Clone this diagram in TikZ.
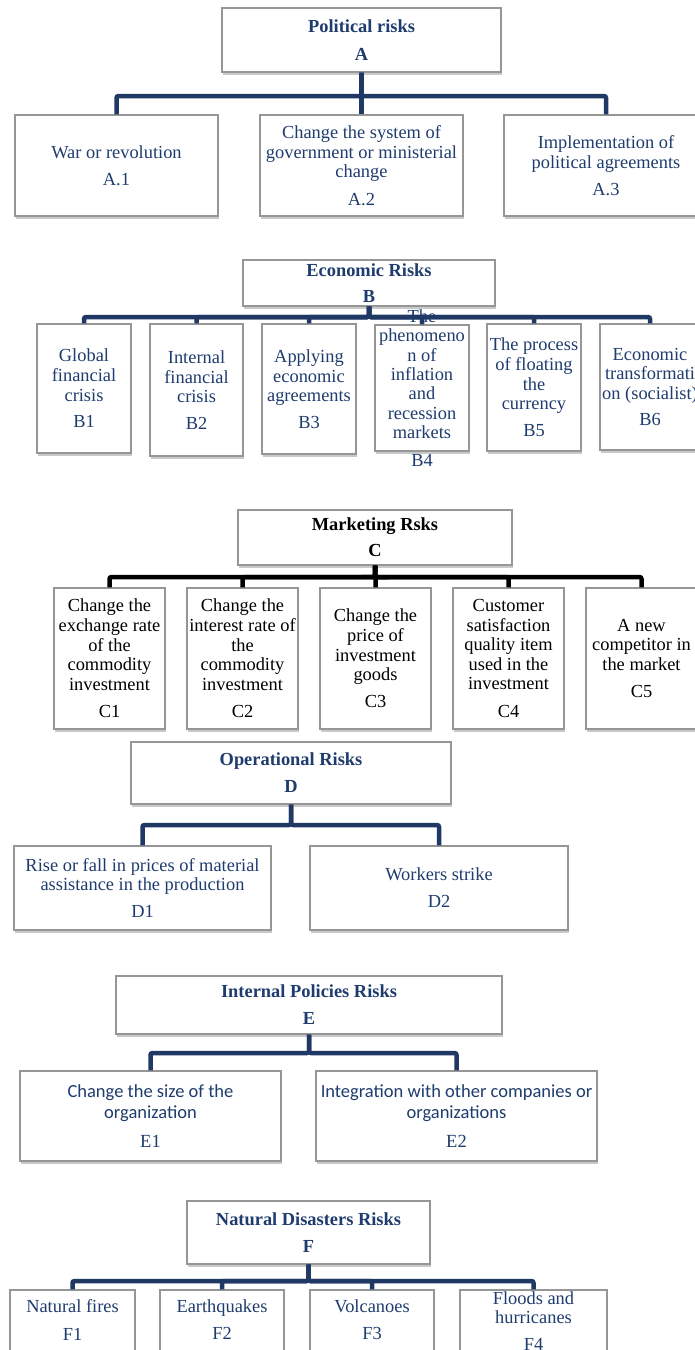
\documentclass[tikz,border=0pt]{standalone}
\usepackage{fontspec}
\setmainfont{Liberation Serif}
\newfontfamily\carlito{Carlito}
\usetikzlibrary{shadows}
\definecolor{tblue}{RGB}{31,60,110}
\definecolor{lblue}{RGB}{31,56,100}
\definecolor{bgray}{RGB}{150,150,150}
\newcommand\bx[5]{\node[boxs, minimum width={#4-#2}, minimum height={#5-#3}] (#1) at ({(#2+#4)/2},{(#3+#5)/2}) {};}
\begin{document}
\begin{tikzpicture}[x=1pt,y=-1pt,
  boxs/.style={draw=bgray, line width=1.2pt, fill=white, inner sep=0pt,
    drop shadow={shadow xshift=0.8pt, shadow yshift=-3pt, opacity=0.35, fill=black!60}},
  txt/.style={align=center, inner sep=0pt, text=tblue, font=\fontsize{18.4}{19.6}\selectfont},
  ttl/.style={txt, font=\bfseries\fontsize{18.4}{19.6}\selectfont},
  btxt/.style={txt, text=black},
  bttl/.style={ttl, text=black},
  stxt/.style={txt, font=\carlito\fontsize{18.5}{20.5}\selectfont},
  conn/.style={draw=lblue, line width=4.5pt, rounded corners=2pt},
  bconn/.style={conn, draw=black},
]
\fill[white] (0,0) rectangle (695,1350);
\useasboundingbox (0,0) rectangle (695,1350);
% ---------- boxes ----------
\bx{A}{222}{8}{501}{72}
\bx{a1}{15}{115}{218}{216}
\bx{a2}{260}{115}{463}{216}
\bx{a3}{504}{115}{708}{216}
\bx{B}{243}{260}{495}{306}
\bx{b1}{37}{324}{131}{453}
\bx{b2}{150}{324}{243}{456}
\bx{b3}{262}{324}{356}{454}
\bx{b4}{375}{325}{469}{451}
\bx{b5}{487}{324}{581}{451}
\bx{b6}{600}{324}{700}{450}
\bx{C}{238}{510}{512}{565}
\bx{c1}{54}{588}{165}{729}
\bx{c2}{187}{588}{298}{729}
\bx{c3}{320}{588}{431}{729}
\bx{c4}{453}{588}{564}{729}
\bx{c5}{586}{588}{697}{729}
\bx{D}{131}{742}{451}{804}
\bx{d1}{14}{846}{271}{930}
\bx{d2}{310}{846}{568}{930}
\bx{E}{116}{976}{502}{1034}
\bx{e1}{20}{1071}{281}{1161}
\bx{e2}{316}{1071}{597}{1161}
\bx{F}{187}{1201}{430}{1264}
\bx{f1}{10}{1290}{135}{1356}
\bx{f2}{160}{1290}{284}{1356}
\bx{f3}{310}{1290}{434}{1356}
\bx{f4}{460}{1290}{607}{1356}
% ---------- bus coordinates ----------
\coordinate (busA) at (0,96);
\coordinate (busB) at (0,317);
\coordinate (busC) at (0,577);
\coordinate (busD) at (0,825);
\coordinate (busE) at (0,1053);
\coordinate (busF) at (0,1281);
% ---------- connectors ----------
\foreach \c in {a1,a2,a3}{\draw[conn] (A.south) -- (A.south |- busA) -| (\c.north);}
\foreach \c in {b1,b2,b3,b4,b5,b6}{\draw[conn] (B.south) -- (B.south |- busB) -| (\c.north);}
\foreach \c in {c1,c2,c3,c4,c5}{\draw[bconn] (C.south) -- (C.south |- busC) -| (\c.north);}
\foreach \c in {d1,d2}{\draw[conn] (D.south) -- (D.south |- busD) -| (\c.north);}
\foreach \c in {e1,e2}{\draw[conn] (E.south) -- (E.south |- busE) -| (\c.north);}
\foreach \c in {f1,f2,f3,f4}{\draw[conn] (F.south) -- (F.south |- busF) -| (\c.north);}
% ---------- texts ----------
\node[ttl] (At) at (A) {Political risks\\[8.5pt]A};
\node[txt] (a1t) at (a1) {War or revolution\\[7.5pt]A.1};
\node[txt] (a2t) at (a2) {Change the system of\\government or ministerial\\change\\[7.5pt]A.2};
\node[txt] (a3t) at (a3) {Implementation of\\political agreements\\[7.5pt]A.3};
\node[ttl] (Bt) at (B) {Economic Risks\\[6.5pt]B};
\node[txt] (b1t) at (b1) {Global\\financial\\crisis\\[7pt]B1};
\node[txt] (b2t) at (b2) {Internal\\financial\\crisis\\[7pt]B2};
\node[txt] (b3t) at (b3) {Applying\\economic\\agreements\\[7pt]B3};
\node[txt, font=\fontsize{18.4}{19.3}\selectfont] (b4t) at (b4) {The\\phenomeno\\n of\\inflation\\and\\recession\\markets\\[8.5pt]B4};
\node[txt] (b5t) at (b5) {The process\\of floating\\the\\currency\\[7.5pt]B5};
\node[txt] (b6t) at (b6) {Economic\\transformati\\on (socialist)\\[7pt]B6};
\node[bttl] (Ct) at (C) {Marketing Rsks\\[6.5pt]C};
\node[btxt] (c1t) at (c1) {Change the\\exchange rate\\of the\\commodity\\investment\\[8pt]C1};
\node[btxt] (c2t) at (c2) {Change the\\interest rate of\\the\\commodity\\investment\\[8pt]C2};
\node[btxt] (c3t) at (c3) {Change the\\price of\\investment\\goods\\[7.5pt]C3};
\node[btxt] (c4t) at (c4) {Customer\\satisfaction\\quality item\\used in the\\investment\\[8pt]C4};
\node[btxt] (c5t) at (c5) {A new\\competitor in\\the market\\[7.5pt]C5};
\node[ttl] (Dt) at (D) {Operational Risks\\[7.5pt]D};
\node[txt] (d1t) at (d1) {Rise or fall in prices of material\\assistance in the production\\[7.5pt]D1};
\node[txt] (d2t) at (d2) {Workers strike\\[7.5pt]D2};
\node[ttl] (Et) at (E) {Internal Policies Risks\\[7.5pt]E};
\node[stxt] (e1t) at (e1) {Change the size of the\\organization\\[8.5pt]\rmfamily E1};
\node[stxt] (e2t) at (e2) {Integration with other companies or\\organizations\\[8.5pt]\rmfamily E2};
\node[ttl] (Ft) at (F) {Natural Disasters Risks\\[7.5pt]F};
\node[txt] (f1t) at (72.5,1320) {Natural fires\\[7.5pt]F1};
\node[txt] (f2t) at (222,1320) {Earthquakes\\[7.5pt]F2};
\node[txt] (f3t) at (372,1320) {Volcanoes\\[7.5pt]F3};
\node[txt] (f4t) at (533.5,1321) {Floods and\\hurricanes\\[7pt]F4};
\end{tikzpicture}
\end{document}
